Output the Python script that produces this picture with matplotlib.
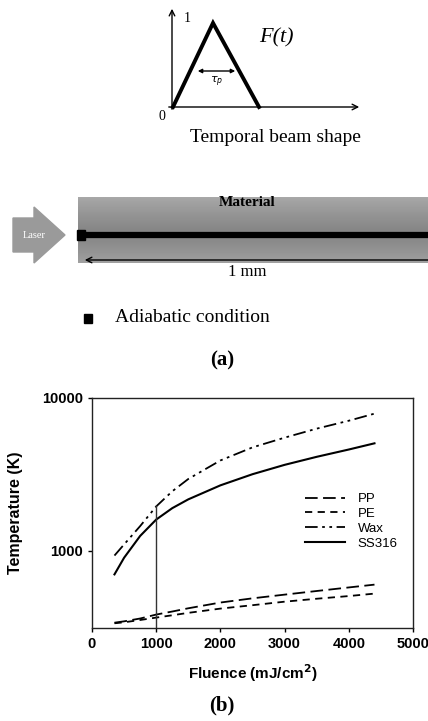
import numpy as np
import matplotlib
matplotlib.use("Agg")
import matplotlib.pyplot as plt
from matplotlib.patches import Polygon, Rectangle

# ---------------- data (panel b) ----------------
fluence = [350, 500, 750, 1000, 1250, 1500, 2000, 2500, 3000, 3500, 4000, 4400]
temp_pp = [338, 345, 360, 382, 400, 420, 458, 488, 516, 545, 575, 600]
temp_pe = [335, 340, 352, 365, 378, 392, 418, 440, 464, 485, 505, 524]
temp_wax = [930, 1100, 1450, 1950, 2450, 2950, 3900, 4750, 5500, 6300, 7100, 7900]
temp_ss316 = [700, 900, 1250, 1600, 1900, 2170, 2680, 3170, 3650, 4120, 4600, 5050]
series_names = ["PP", "PE", "Wax", "SS316"]
marker_fluence = 1000
marker_top = 2000
x_ticks = [0, 1000, 2000, 3000, 4000, 5000]
y_ticks = [1000, 10000]

# temporal beam shape (panel a)
pulse_t = [0.0, 1.0, 2.15]
pulse_f = [0.0, 1.0, 0.0]

W, H = 428, 721
fig = plt.figure(figsize=(W / 100, H / 100), dpi=100)

# ---------------- overlay for panel (a) in pixel coords ----------------
ov = fig.add_axes([0, 0, 1, 1])
ov.set_xlim(0, W)
ov.set_ylim(H, 0)
ov.axis("off")

serif = "Liberation Serif"
sans = "Liberation Sans"

# temporal beam shape sketch
ox, oy = 173, 107
sx, sy = 40, 84
ov.annotate("", xy=(172, 6), xytext=(172, 112),
            arrowprops=dict(arrowstyle="->", lw=1.0, color="black"))
ov.annotate("", xy=(362, 107), xytext=(166, 107),
            arrowprops=dict(arrowstyle="->", lw=1.0, color="black"))
tri_x = [ox + sx * t for t in pulse_t]
tri_y = [oy - sy * f for f in pulse_f]
ov.plot(tri_x, tri_y, color="black", lw=2.8, solid_joinstyle="miter")
ov.annotate("", xy=(195, 71), xytext=(238, 71),
            arrowprops=dict(arrowstyle="<|-|>", lw=1.0, color="black",
                            mutation_scale=6))
ov.text(217, 82, r"$\tau_p$", ha="center", va="center", fontsize=8,
        family=serif)
ov.text(187, 19, "1", ha="center", va="center", fontsize=10, family=serif)
ov.text(162, 117, "0", ha="center", va="center", fontsize=10, family=serif)
ov.text(276, 38, "F(t)", ha="center", va="center", fontsize=16,
        family=serif, style="italic")
ov.text(275, 137, "Temporal beam shape", ha="center", va="center",
        fontsize=14, family=serif)

# material band (vertical gradient)
yy = np.linspace(0, 1, 60)[:, None]
grad = 0.52 + 0.28 * np.abs(yy - 0.55) ** 1.2 + 0.0 * np.ones((1, 10))
ov.imshow(grad, cmap="gray", vmin=0, vmax=1, extent=[78, W, 263, 197],
          aspect="auto", zorder=1, interpolation="bilinear")
ov.plot([80, W], [235, 235], color="black", lw=4.5, zorder=3,
        solid_capstyle="butt")
ov.add_patch(Rectangle((77, 230), 8, 10, color="black", zorder=4))
ov.annotate("", xy=(82, 260), xytext=(W + 5, 260),
            arrowprops=dict(arrowstyle="->", lw=1.0, color="black"),
            zorder=4)
ov.text(247, 202, "Material", ha="center", va="center", fontsize=11,
        family=serif, weight="bold", zorder=5)
ov.text(247, 272, "1 mm", ha="center", va="center", fontsize=12,
        family=serif, zorder=5)

# laser arrow
arrow_pts = [(13, 218), (34, 218), (34, 207), (65, 235), (34, 263),
             (34, 252), (13, 252)]
ov.add_patch(Polygon(arrow_pts, closed=True, color="#9a9a9a", zorder=2))
ov.text(34, 235, "Laser", ha="center", va="center", fontsize=7.5,
        family=serif, color="white", zorder=3)

ov.add_patch(Rectangle((84, 314), 8, 9, color="black"))
ov.text(115, 318, "Adiabatic condition", ha="left", va="center",
        fontsize=14, family=serif)
ov.text(222, 360, "(a)", ha="center", va="center", fontsize=15,
        family=serif, weight="bold")

# ---------------- panel (b) ----------------
L, R, T, B = 92, 413, 398, 628
ax = fig.add_axes([L / W, 1 - B / H, (R - L) / W, (B - T) / H])
styles = {
    "PP": dict(ls=(0, (7, 3)), lw=1.3),
    "PE": dict(ls=(0, (4, 3)), lw=1.3),
    "Wax": dict(ls=(0, (7, 2.5, 1.5, 2.5, 1.5, 2.5)), lw=1.3),
    "SS316": dict(ls="-", lw=1.5),
}
for name, vals in zip(series_names, [temp_pp, temp_pe, temp_wax, temp_ss316]):
    ax.plot(fluence, vals, color="black", label=name, **styles[name])
ax.vlines(marker_fluence, 300, marker_top, color="#333333", lw=1.0)

ax.set_yscale("log")
ax.set_xlim(0, 5000)
ax.set_ylim(312, 10000)
ax.set_xticks(x_ticks)
ax.set_xticklabels([str(v) for v in x_ticks])
ax.set_yticks(y_ticks)
ax.set_yticklabels([str(v) for v in y_ticks])
ax.yaxis.set_minor_locator(matplotlib.ticker.NullLocator())
ax.tick_params(direction="out", length=3, width=1, labelsize=10.5)
for lab in ax.get_xticklabels() + ax.get_yticklabels():
    lab.set_family(sans)
    lab.set_weight("bold")
for sp in ax.spines.values():
    sp.set_linewidth(1.0)
    sp.set_color("#222222")
ax.set_xlabel("Fluence (mJ/cm$^\\mathbf{2}$)", family=sans, weight="bold",
              fontsize=11, labelpad=8)
ax.set_ylabel("Temperature (K)", family=sans, weight="bold", fontsize=11.5,
              labelpad=14)

leg = ax.legend(loc="upper left", bbox_to_anchor=(0.647, 0.61), frameon=False,
                handlelength=3.0, handletextpad=1.0, labelspacing=0.2,
                borderaxespad=0, prop=dict(family=sans, size=9.5))

ov.text(222, 705, "(b)", ha="center", va="center", fontsize=15,
        family=serif, weight="bold")

fig.savefig("out.png", dpi=100)
